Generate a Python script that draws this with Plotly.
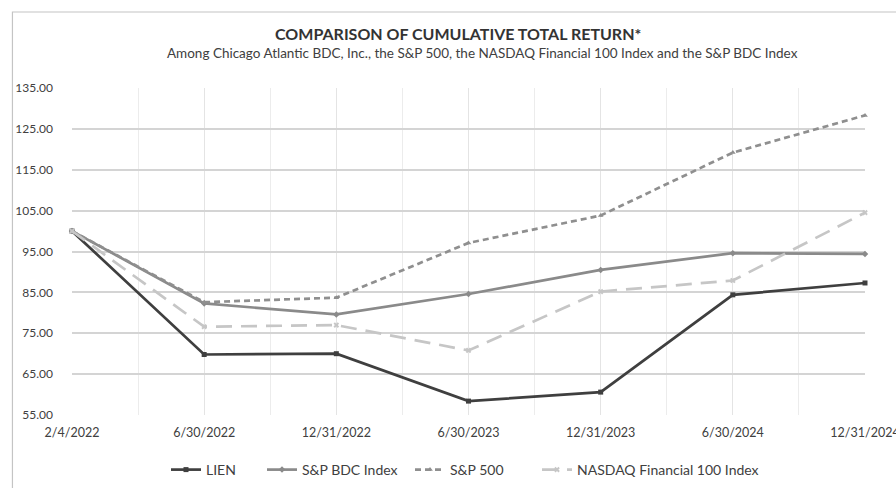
import plotly.graph_objects as go

dates = ["2/4/2022", "6/30/2022", "12/31/2022", "6/30/2023", "12/31/2023", "6/30/2024", "12/31/2024"]
lien = [100.0, 69.8, 70.0, 58.4, 60.6, 84.4, 87.3]
sp_bdc = [100.0, 82.3, 79.6, 84.6, 90.5, 94.6, 94.4]
sp500 = [100.0, 82.6, 83.7, 97.1, 103.8, 119.2, 128.3]
nasdaq_fin = [100.0, 76.6, 77.0, 70.8, 85.2, 87.9, 104.5]

x_idx = list(range(len(dates)))
FONT = "Lato"
TXT = "#404040"

fig = go.Figure()
series = [
    ("LIEN", lien, "#3f3f3f", "solid", "square", "legend", 166),
    ("S&P BDC Index", sp_bdc, "#8a8a8a", "solid", "diamond", "legend2", 262),
    ("S&P 500", sp500, "#8f8f8f", "6px,4px", "triangle-up", "legend3", 410),
    ("NASDAQ Financial 100 Index", nasdaq_fin, "#c6c6c6", "16px,9px", "x", "legend4", 537),
]
legends = {}
for name, vals, col, dash, sym, lg, lx in series:
    fig.add_trace(go.Scatter(
        x=x_idx, y=vals, name=name, mode="lines+markers",
        line=dict(color=col, width=2.7, dash=dash),
        marker=dict(color=col, size=5, symbol=sym),
        cliponaxis=False, legend=lg,
    ))
    legends[lg] = dict(orientation="h", xref="container", x=lx / 896, xanchor="left",
                       yref="container", y=1 - 470 / 488, yanchor="middle",
                       font=dict(size=14, color=TXT), bgcolor="rgba(0,0,0,0)")

fig.update_layout(
    width=896, height=488,
    margin=dict(l=72, r=31, t=88, b=73, autoexpand=False),
    paper_bgcolor="white", plot_bgcolor="white",
    font=dict(family=FONT, size=12, color=TXT),
    showlegend=True,
    annotations=[
        dict(text="<b>COMPARISON OF CUMULATIVE TOTAL RETURN*</b>", xref="paper", yref="paper",
             x=0.487, y=1.168, xanchor="center", yanchor="middle", showarrow=False,
             font=dict(size=16, color="#333333", family=FONT)),
        dict(text="Among Chicago Atlantic BDC, Inc., the S&P 500, the NASDAQ Financial 100 Index and the S&P BDC Index",
             xref="paper", yref="paper", x=0.518, y=1.107, xanchor="center", yanchor="middle",
             showarrow=False, font=dict(size=13.5, color=TXT, family=FONT)),
    ],
    shapes=[dict(type="rect", xref="paper", yref="paper", x0=-0.0751, y0=-0.3, x1=1.1, y1=1.2324,
                 line=dict(color="#c4c4c4", width=1.2), fillcolor="rgba(0,0,0,0)", layer="above")],
    **legends,
)
fig.update_xaxes(
    range=[0, 6], tickmode="array", tickvals=x_idx, ticktext=dates,
    showgrid=True, gridcolor="#e4e4e4", gridwidth=1,
    minor=dict(tickvals=[i + 0.5 for i in x_idx[:-1]], showgrid=True, gridcolor="#ececec", ticks=""),
    showline=False, zeroline=False, ticks="", ticklabelstandoff=8,
    ticklabeloverflow="allow", automargin=False,
    tickfont=dict(size=12.5, color=TXT),
)
fig.update_yaxes(
    range=[55, 135], dtick=10, tick0=55, tickformat=".2f",
    showgrid=True, gridcolor="#d4d4d4", gridwidth=1.5,
    showline=False, zeroline=False, ticks="", ticklabelstandoff=18,
    automargin=False,
    tickfont=dict(size=12, color=TXT),
)
fig.write_html("out.html", config={"displayModeBar": False},
               post_script="document.body.style.margin='0';document.body.style.overflow='hidden';")
